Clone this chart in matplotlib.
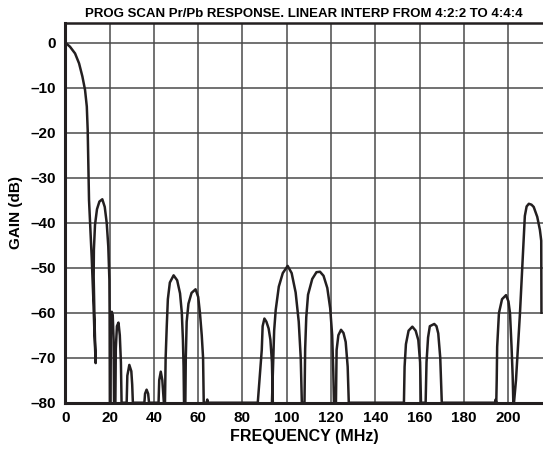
import matplotlib
matplotlib.use("Agg")
import matplotlib.pyplot as plt

plt.rcParams["font.family"] = ["Liberation Sans", "DejaVu Sans"]
plt.rcParams["font.weight"] = "bold"

TITLE = "PROG SCAN Pr/Pb RESPONSE. LINEAR INTERP FROM 4:2:2 TO 4:4:4"
X_TICKS = [0, 20, 40, 60, 80, 100, 120, 140, 160, 180, 200]
Y_TICKS = [0, -10, -20, -30, -40, -50, -60, -70, -80]

# response, one lobe per line, floor clipped at -80 dB
freq_mhz = [
    0, 2.1, 4.4, 6.2, 7.7, 8.9, 9.7, 10.1, 10.4, 10.7, 11.2, 11.9, 12.6, 13.1, 13.7,
    13.2, 12.8, 12.9, 13.4, 14.3, 15.4, 16.7, 17.8, 18.7, 19.4, 19.9, 20.0, 20.1,
    20.4, 20.6, 21.0, 21.4, 21.8, 22.0,
    22.6, 22.8, 23.3, 24.0, 24.6, 25.1, 25.4,
    27.7, 28.0, 28.9, 29.8, 30.2, 30.5,
    35.7, 36.0, 36.7, 37.4, 37.8,
    42.1, 42.4, 43.1, 43.8, 44.5,
    45.0, 45.3, 45.8, 46.3, 47.2, 48.9, 50.5, 51.8, 52.6, 53.1, 53.4, 53.6,
    54.2, 54.4, 54.8, 55.6, 57.0, 58.8, 60.0, 60.8, 61.6, 62.2, 62.5,
    63.8, 64.1, 64.4,
    86.9, 87.8, 88.7, 89.1, 89.9, 90.8, 91.8, 92.6, 93.3, 93.7,
    93.3, 93.9, 94.3, 95.0, 96.4, 98.2, 100.4, 102.2, 104.0, 105.4, 106.3, 106.8,
    108.0, 108.3, 108.8, 109.6, 111.5, 113.4, 115.0, 116.6, 118.3, 119.6, 120.5, 121.0, 121.3,
    122.2, 122.5, 123.3, 124.5, 125.6, 126.6, 127.5, 128.0,
    152.9, 153.2, 153.8, 155.0, 156.7, 158.2, 159.4, 160.2, 160.6,
    162.7, 163.1, 163.8, 164.6, 166.6, 167.6, 168.4, 169.3, 170.0,
    194.0, 194.3, 194.6,
    194.8, 195.0, 195.8, 197.2, 199.0, 200.1, 200.8, 201.5, 202.0, 202.3,
    202.6, 203.5, 205.3, 206.8, 207.5, 208.3, 209.3, 210.5, 211.5, 213.1, 214.3, 214.9, 215.0,
]
gain_db = [
    0, -0.9, -2.4, -4.6, -7.5, -10.5, -14.2, -19.4, -26.8, -35.0, -40.1, -47.6, -56.4, -63.8, -71.2,
    -62.0, -52.0, -46.0, -40.5, -37.0, -35.3, -34.8, -36.5, -40.1, -45.3, -52.7, -60.1, -80,
    -80, -62.0, -59.8, -60.5, -66.0, -80,
    -80, -68.0, -63.0, -62.2, -65.0, -71.0, -80,
    -80, -74.0, -71.6, -73.0, -76.0, -80,
    -80, -78.0, -77.1, -78.0, -80,
    -80, -75.0, -73.1, -75.0, -80,
    -80, -70.0, -63.0, -57.0, -53.3, -51.7, -52.8, -55.7, -60.0, -66.0, -72.0, -80,
    -80, -70.0, -62.0, -58.0, -55.6, -54.8, -56.5, -60.1, -65.0, -70.0, -80,
    -80, -79.3, -80,
    -80, -74.0, -68.3, -63.0, -61.3, -62.0, -63.5, -66.0, -71.0, -80,
    -80, -70.0, -64.0, -59.4, -54.2, -51.2, -49.6, -51.2, -55.5, -62.0, -70.0, -80,
    -80, -68.0, -61.0, -56.0, -52.5, -51.0, -50.9, -51.8, -54.5, -59.0, -65.0, -73.0, -80,
    -80, -68.3, -65.0, -63.8, -64.5, -66.5, -72.0, -80,
    -80, -72.0, -67.0, -64.0, -63.1, -64.0, -66.1, -71.0, -80,
    -80, -71.0, -65.5, -63.0, -62.5, -63.0, -64.6, -70.0, -80,
    -80, -79.3, -80,
    -75.0, -67.6, -60.1, -57.0, -56.1, -57.5, -60.1, -67.6, -74.0, -80,
    -80, -75.0, -60.1, -45.3, -38.5, -36.4, -35.8, -36.0, -36.5, -38.7, -41.6, -44.0, -60.0,
]


def draw_chart():
    fig = plt.figure(figsize=(5.43, 4.55), dpi=100)
    ax = fig.add_axes([0.1203, 0.1149, 0.8797, 0.8349])

    ax.plot(freq_mhz, gain_db, color="#231f20", linewidth=1.8, solid_joinstyle="round", zorder=3)

    ax.set_xlim(0, 215.7)
    ax.set_ylim(-80, 4.4)
    ax.set_xticks(X_TICKS)
    ax.set_yticks(Y_TICKS)
    ax.set_xticklabels([str(t) for t in X_TICKS], fontsize=11, fontweight="bold")
    ax.set_yticklabels([str(t).replace("-", "\u2013") for t in Y_TICKS], fontsize=11, fontweight="bold")
    ax.tick_params(axis="x", length=0, pad=6)
    ax.tick_params(axis="y", length=0, pad=7)

    ax.grid(True, color="#4a4a4a", linewidth=1.1)
    ax.set_axisbelow(True)

    for side in ["left", "bottom"]:
        ax.spines[side].set_linewidth(2.2)
        ax.spines[side].set_color("#231f20")
    ax.spines["top"].set_linewidth(1.8)
    ax.spines["top"].set_color("#231f20")
    ax.spines["right"].set_visible(False)

    ax.set_xlabel("FREQUENCY (MHz)", fontsize=11.5, fontweight="bold", labelpad=3)
    ax.set_ylabel("GAIN (dB)", fontsize=11, fontweight="bold", labelpad=5)
    ax.set_title(TITLE, fontsize=9.5, fontweight="bold", pad=4)

    fig.savefig("out.png", dpi=100)
    plt.close(fig)


if __name__ == "__main__":
    draw_chart()
